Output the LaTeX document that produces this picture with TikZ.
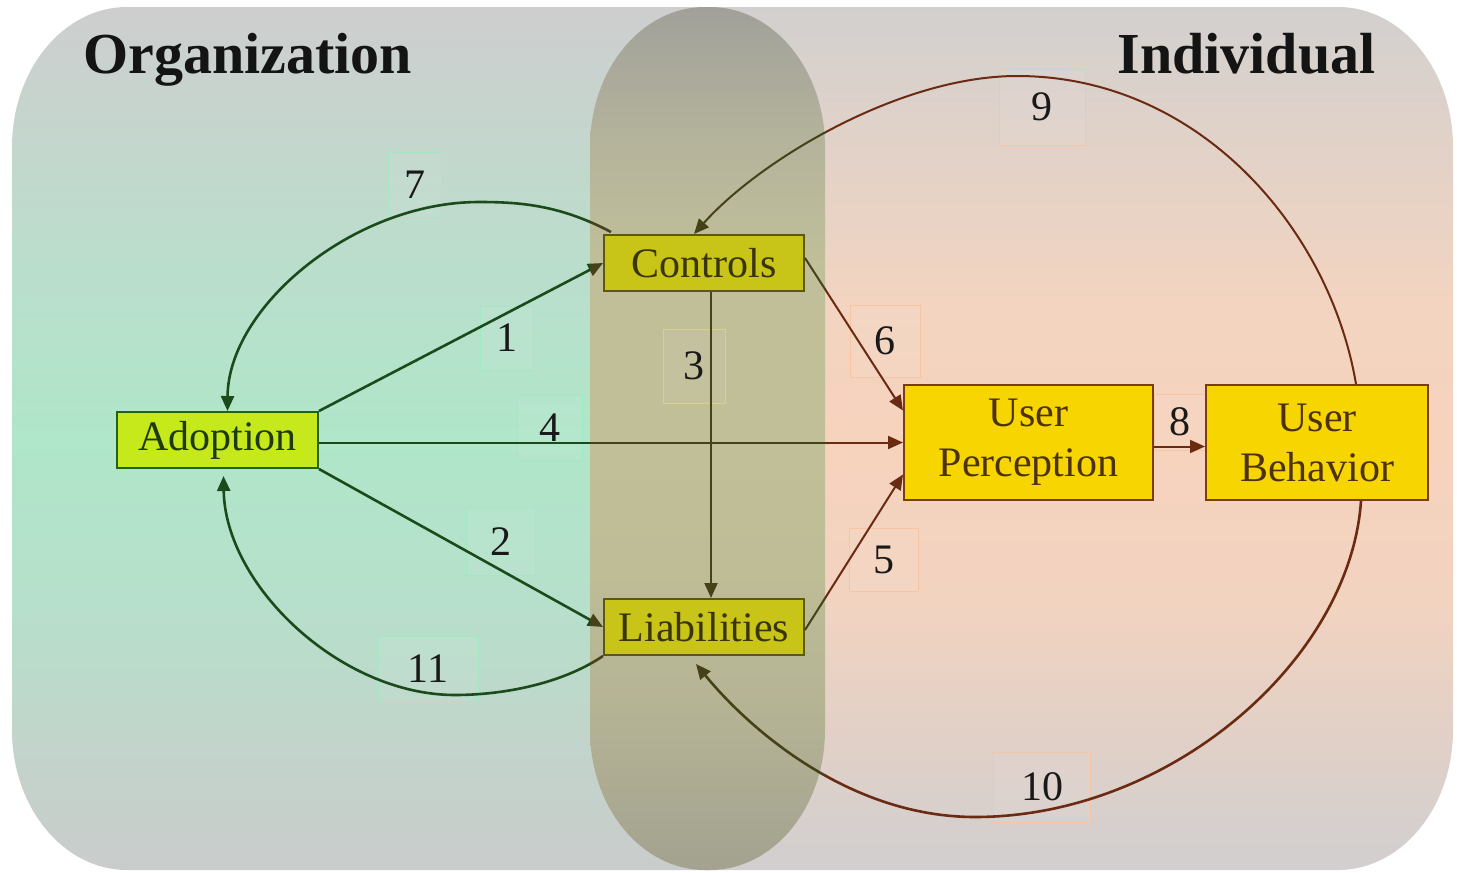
\documentclass[tikz,border=0pt]{standalone}
\usepackage{fontspec}
\setmainfont{Liberation Serif}
\usetikzlibrary{arrows.meta}
\definecolor{grnLine}{HTML}{1B4A1B}
\definecolor{olvLine}{HTML}{45421A}
\definecolor{brnLine}{HTML}{6B2A12}
\definecolor{adFill}{HTML}{C6E91C}
\definecolor{adDraw}{HTML}{1E6414}
\definecolor{adText}{HTML}{1E3A0A}
\definecolor{ctFill}{HTML}{C9C418}
\definecolor{ctDraw}{HTML}{5A5812}
\definecolor{ctText}{HTML}{3A3504}
\definecolor{usFill}{HTML}{F6D500}
\definecolor{usDraw}{HTML}{7A3C12}
\definecolor{usText}{HTML}{4D3208}
\definecolor{lbG}{HTML}{A0EAC2}
\definecolor{lbY}{HTML}{D8D48A}
\definecolor{lbP}{HTML}{F9C4A0}
\colorlet{lc}{brnLine}
% vertical shadings: positions from bottom, path box maps to 25bp..75bp
\pgfdeclareverticalshading{shadeL}{100bp}{%
  rgb(0bp)=(0.792,0.800,0.796); rgb(25bp)=(0.792,0.800,0.796);
  rgb(32bp)=(0.761,0.831,0.796); rgb(40.6bp)=(0.714,0.878,0.796);
  rgb(50bp)=(0.690,0.902,0.788); rgb(58bp)=(0.722,0.878,0.800);
  rgb(66.7bp)=(0.765,0.843,0.804); rgb(75bp)=(0.808,0.808,0.808);
  rgb(100bp)=(0.808,0.808,0.808)}
\pgfdeclareverticalshading{shadeR}{100bp}{%
  rgb(0bp)=(0.820,0.812,0.812); rgb(25bp)=(0.820,0.812,0.812);
  rgb(32bp)=(0.878,0.816,0.784); rgb(40.6bp)=(0.949,0.827,0.753);
  rgb(50bp)=(0.965,0.827,0.741); rgb(58bp)=(0.949,0.831,0.753);
  rgb(66.7bp)=(0.886,0.824,0.784); rgb(75bp)=(0.824,0.816,0.812);
  rgb(100bp)=(0.824,0.816,0.812)}
\pgfdeclareverticalshading{shadeP}{100bp}{%
  rgb(0bp)=(0.640,0.635,0.565); rgb(25bp)=(0.640,0.635,0.565);
  rgb(33bp)=(0.700,0.695,0.580); rgb(42bp)=(0.745,0.740,0.590);
  rgb(50bp)=(0.755,0.750,0.592); rgb(60bp)=(0.755,0.750,0.600);
  rgb(67bp)=(0.710,0.705,0.610); rgb(75bp)=(0.630,0.630,0.605);
  rgb(100bp)=(0.630,0.630,0.605)}
\newcommand\numf{\fontsize{42}{50}\selectfont}
\newcommand\allconn{%
\draw[cw] (A.north east) -- (C.west);
\draw[cw] (A.south east) -- (L.west);
\draw[cn] (A.east |- P.west) -- (P.west);
\draw[cn] ([xshift=7pt]C.south) -- ([xshift=7pt]L.north);
\draw[cn] ([yshift=5pt]C.east) -- ([yshift=32pt]P.west);
\draw[cn] ([yshift=-3pt]L.east) -- ([yshift=-32pt]P.west);
\draw[cn] ([yshift=-4pt]P.east) -- ([yshift=-4pt]B.west);
\draw[cw] ([xshift=8pt,yshift=2pt]C.north west) .. controls (560,205) and (520,202) .. (479,202) .. controls (353.5,202) and (228,307) .. ([xshift=10pt]A.north);
\draw[cw] (L.south west) .. controls (560,685) and (500,695) .. (455,695) .. controls (340,695) and (225,585) .. ([xshift=6pt,yshift=-7pt]A.south);
\draw[cn] ([xshift=39pt]B.north) .. controls (1330,230) and (1200,76) .. (1017,76) .. controls (900,76) and (760,160) .. ([xshift=-10pt]C.north);
\draw[cw] ([xshift=44pt]B.south) .. controls (1350,660) and (1170,817) .. (975,817) .. controls (850,817) and (750,730) .. ([xshift=-8pt,yshift=-8pt]L.south);
}
\begin{document}
\begin{tikzpicture}[x=1pt,y=-1pt,
  pathL/.style={insert path={(12,147) .. controls (12,69.7) and (63.5,7) .. (127,7) -- (710,7) .. controls (773.5,7) and (825,69.7) .. (825,147) -- (825,730) .. controls (825,807.3) and (773.5,870) .. (710,870) -- (127,870) .. controls (63.5,870) and (12,807.3) .. (12,730) -- cycle}},
  pathR/.style={insert path={(590,147) .. controls (590,69.7) and (641.5,7) .. (705,7) -- (1338,7) .. controls (1401.5,7) and (1453,69.7) .. (1453,147) -- (1453,730) .. controls (1453,807.3) and (1401.5,870) .. (1338,870) -- (705,870) .. controls (641.5,870) and (590,807.3) .. (590,730) -- cycle}},
  box/.style={draw, line width=2pt, inner sep=0pt, align=center, font=\numf},
  adbox/.style={box, fill=adFill, draw=adDraw, text=adText},
  ctbox/.style={box, fill=ctFill, draw=ctDraw, text=ctText},
  usbox/.style={box, fill=usFill, draw=usDraw, text=usText},
  lbl/.style={draw=#1, line width=0.9pt, fill=white, fill opacity=0.06, draw opacity=0.9, text opacity=1, inner sep=0pt, font=\numf, text=black!90},
  title/.style={anchor=base west, font=\fontsize{58}{60}\selectfont\bfseries, text=black!92},
  cw/.style={line width=2.6pt, draw=lc, -{Triangle[length=15pt,width=13pt]}},
  cn/.style={line width=2pt, draw=lc, -{Triangle[length=15pt,width=13pt]}}
]
\useasboundingbox (0,0) rectangle (1457,873);
\fill[white] (0,0) rectangle (1457,873);
% regions
\shade[pathL, shading=shadeL];
\shade[pathR, shading=shadeR];
\begin{scope}
  \clip[pathL];
  \shade[pathR, shading=shadeP];
\end{scope}
% titles
\node[title] (torg) at (80,73) {Organization};
\node[title] (tind) at (1114,73) {Individual};
% label boxes
\node[lbl=lbG, minimum width=53pt, minimum height=65pt] (n7) at (414.5,184.5) {7};
\node[lbl=lbG, minimum width=53pt, minimum height=64pt] (n1) at (506.5,338) {1};
\node[lbl=lbY, minimum width=62pt, minimum height=74pt] (n3) at (694,366) {3};
\node[lbl=lbG, minimum width=65pt, minimum height=65pt] (n4) at (549.5,427.5) {4};
\node[lbl=lbG, minimum width=69pt, minimum height=67pt] (n2) at (500.5,541.5) {2};
\node[lbl=lbG, minimum width=100pt, minimum height=65pt] (n11) at (428,668.5) {11};
\node[lbl=lbP, minimum width=70pt, minimum height=72pt] (n6) at (885,341) {6};
\node[lbl=lbP, minimum width=69pt, minimum height=63pt] (n5) at (884,560) {5};
\node[lbl=lbP, minimum width=97pt, minimum height=70pt] (n10) at (1042,787) {10};
\node[lbl=lbP, minimum width=86pt, minimum height=76pt] (n9) at (1042,107) {9};
\node[lbl=lbP, minimum width=51pt, minimum height=56pt] (n8) at (1179.5,422) {8};
% main nodes
\node[adbox, minimum width=201pt, minimum height=56pt] (A) at (217.5,440) {Adoption};
\node[ctbox, minimum width=200pt, minimum height=56pt] (C) at (704,263) {Controls};
\node[ctbox, minimum width=200pt, minimum height=56pt] (L) at (704,627) {Liabilities};
\node[usbox, minimum width=249pt, minimum height=115pt] (P) at (1028.5,442.5) {User\\Perception};
\node[usbox, minimum width=222pt, minimum height=115pt] (B) at (1317,442.5) {User\\Behavior};
% connectors, coloured by region
\begin{scope}
  \clip (825,0) rectangle (1457,873);
  \colorlet{lc}{brnLine}
  \allconn
\end{scope}
\begin{scope}
  \clip (590,0) rectangle (825,873);
  \colorlet{lc}{olvLine}
  \allconn
\end{scope}
\begin{scope}
  \clip (0,0) rectangle (590,873);
  \colorlet{lc}{grnLine}
  \allconn
\end{scope}
\end{tikzpicture}
\end{document}
